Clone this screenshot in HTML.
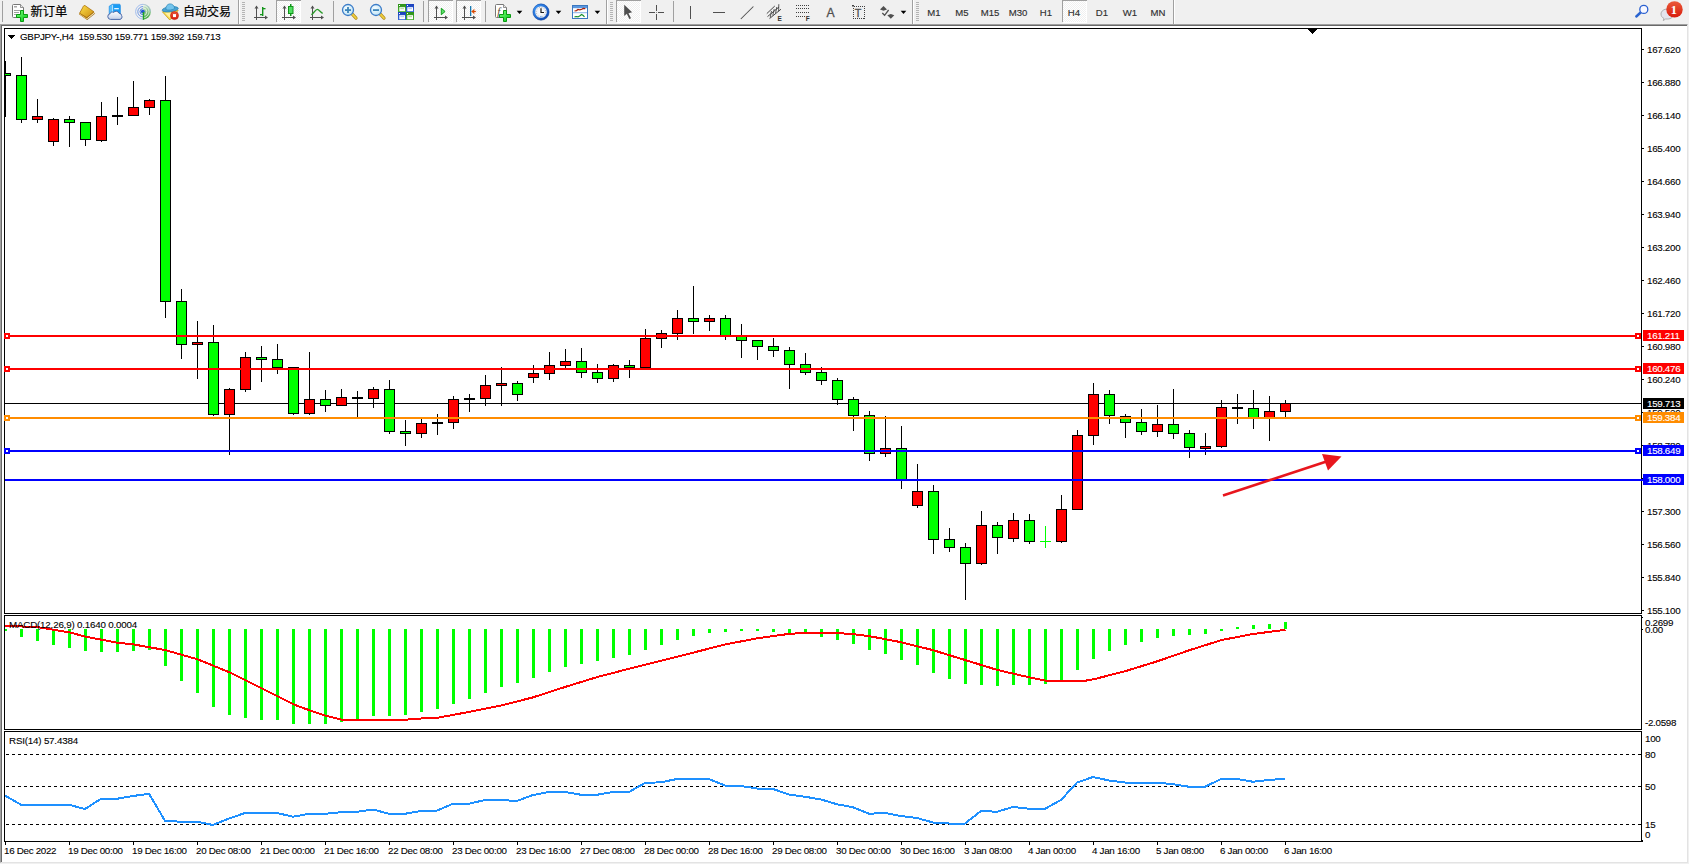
<!DOCTYPE html>
<html lang="zh"><head><meta charset="utf-8"><title>GBPJPY-,H4</title>
<style>
html,body{margin:0;padding:0;}
body{width:1689px;height:864px;overflow:hidden;background:#f0f0f0;position:relative;font-family:"Liberation Sans","Noto Sans CJK SC",sans-serif;}
.frame{position:absolute;left:0;top:24px;width:1688px;height:839px;background:#fff;border-left:1px solid #a0a0a0;border-top:1px solid #a0a0a0;border-right:1px solid #e3e3e3;border-bottom:1px solid #e3e3e3;box-sizing:border-box;}
.frame:before{content:"";position:absolute;left:0;top:0;right:0;bottom:0;border-left:1px solid #696969;border-top:1px solid #696969;}
.chart{position:absolute;left:0;top:0;}
.chart text{white-space:pre;}
.tb{position:absolute;left:0;top:0;width:1689px;height:24px;}
</style></head><body>
<div class="frame"></div>
<svg class="chart" width="1689" height="864" viewBox="0 0 1689 864" shape-rendering="crispEdges"><defs><clipPath id="cp"><rect x="5" y="29" width="1636" height="812"/></clipPath></defs><rect x="4" y="28" width="1638" height="1" fill="#000"/><rect x="4" y="28" width="1" height="814" fill="#000"/><rect x="1641" y="28" width="1" height="814" fill="#000"/><rect x="4" y="613" width="1638" height="1" fill="#000"/><rect x="4" y="615" width="1638" height="1" fill="#000"/><rect x="4" y="729" width="1638" height="1" fill="#000"/><rect x="4" y="731" width="1638" height="1" fill="#000"/><rect x="4" y="841" width="1639" height="1" fill="#000"/><rect x="4" y="614" width="1638" height="1" fill="#fff"/><rect x="4" y="730" width="1638" height="1" fill="#fff"/><path d="M1308 29h9l-4.5 5z" fill="#000"/><rect x="5" y="403" width="1636" height="1" fill="#000"/><g clip-path="url(#cp)"><rect x="5" y="61" width="1" height="56" fill="#000"/><rect x="0" y="73" width="11" height="3" fill="#000"/><rect x="1" y="74" width="9" height="1" fill="#0f0"/><rect x="21" y="57" width="1" height="66" fill="#000"/><rect x="16" y="75" width="11" height="45" fill="#000"/><rect x="17" y="76" width="9" height="43" fill="#0f0"/><rect x="37" y="99" width="1" height="24" fill="#000"/><rect x="32" y="116" width="11" height="4" fill="#000"/><rect x="33" y="117" width="9" height="2" fill="#f00"/><rect x="53" y="118" width="1" height="28" fill="#000"/><rect x="48" y="119" width="11" height="23" fill="#000"/><rect x="49" y="120" width="9" height="21" fill="#f00"/><rect x="69" y="116" width="1" height="31" fill="#000"/><rect x="64" y="119" width="11" height="4" fill="#000"/><rect x="65" y="120" width="9" height="2" fill="#0f0"/><rect x="85" y="122" width="1" height="24" fill="#000"/><rect x="80" y="122" width="11" height="18" fill="#000"/><rect x="81" y="123" width="9" height="16" fill="#0f0"/><rect x="101" y="102" width="1" height="40" fill="#000"/><rect x="96" y="116" width="11" height="25" fill="#000"/><rect x="97" y="117" width="9" height="23" fill="#f00"/><rect x="117" y="97" width="1" height="28" fill="#000"/><rect x="112" y="115" width="11" height="2" fill="#000"/><rect x="133" y="81" width="1" height="35" fill="#000"/><rect x="128" y="107" width="11" height="9" fill="#000"/><rect x="129" y="108" width="9" height="7" fill="#f00"/><rect x="149" y="99" width="1" height="16" fill="#000"/><rect x="144" y="100" width="11" height="8" fill="#000"/><rect x="145" y="101" width="9" height="6" fill="#f00"/><rect x="165" y="76" width="1" height="242" fill="#000"/><rect x="160" y="100" width="11" height="202" fill="#000"/><rect x="161" y="101" width="9" height="200" fill="#0f0"/><rect x="181" y="289" width="1" height="70" fill="#000"/><rect x="176" y="301" width="11" height="44" fill="#000"/><rect x="177" y="302" width="9" height="42" fill="#0f0"/><rect x="197" y="321" width="1" height="58" fill="#000"/><rect x="192" y="342" width="11" height="3" fill="#000"/><rect x="193" y="343" width="9" height="1" fill="#f00"/><rect x="213" y="325" width="1" height="91" fill="#000"/><rect x="208" y="342" width="11" height="73" fill="#000"/><rect x="209" y="343" width="9" height="71" fill="#0f0"/><rect x="229" y="388" width="1" height="67" fill="#000"/><rect x="224" y="389" width="11" height="26" fill="#000"/><rect x="225" y="390" width="9" height="24" fill="#f00"/><rect x="245" y="352" width="1" height="40" fill="#000"/><rect x="240" y="357" width="11" height="33" fill="#000"/><rect x="241" y="358" width="9" height="31" fill="#f00"/><rect x="261" y="346" width="1" height="36" fill="#000"/><rect x="256" y="357" width="11" height="3" fill="#000"/><rect x="257" y="358" width="9" height="1" fill="#0f0"/><rect x="277" y="344" width="1" height="30" fill="#000"/><rect x="272" y="359" width="11" height="9" fill="#000"/><rect x="273" y="360" width="9" height="7" fill="#0f0"/><rect x="293" y="367" width="1" height="48" fill="#000"/><rect x="288" y="367" width="11" height="47" fill="#000"/><rect x="289" y="368" width="9" height="45" fill="#0f0"/><rect x="309" y="352" width="1" height="63" fill="#000"/><rect x="304" y="399" width="11" height="15" fill="#000"/><rect x="305" y="400" width="9" height="13" fill="#f00"/><rect x="325" y="390" width="1" height="22" fill="#000"/><rect x="320" y="399" width="11" height="7" fill="#000"/><rect x="321" y="400" width="9" height="5" fill="#0f0"/><rect x="341" y="389" width="1" height="17" fill="#000"/><rect x="336" y="397" width="11" height="9" fill="#000"/><rect x="337" y="398" width="9" height="7" fill="#f00"/><rect x="357" y="391" width="1" height="26" fill="#000"/><rect x="352" y="397" width="11" height="2" fill="#000"/><rect x="373" y="387" width="1" height="21" fill="#000"/><rect x="368" y="389" width="11" height="10" fill="#000"/><rect x="369" y="390" width="9" height="8" fill="#f00"/><rect x="389" y="380" width="1" height="54" fill="#000"/><rect x="384" y="389" width="11" height="43" fill="#000"/><rect x="385" y="390" width="9" height="41" fill="#0f0"/><rect x="405" y="420" width="1" height="26" fill="#000"/><rect x="400" y="431" width="11" height="3" fill="#000"/><rect x="401" y="432" width="9" height="1" fill="#0f0"/><rect x="421" y="419" width="1" height="19" fill="#000"/><rect x="416" y="423" width="11" height="11" fill="#000"/><rect x="417" y="424" width="9" height="9" fill="#f00"/><rect x="437" y="414" width="1" height="21" fill="#000"/><rect x="432" y="422" width="11" height="2" fill="#000"/><rect x="453" y="396" width="1" height="33" fill="#000"/><rect x="448" y="399" width="11" height="24" fill="#000"/><rect x="449" y="400" width="9" height="22" fill="#f00"/><rect x="469" y="394" width="1" height="18" fill="#000"/><rect x="464" y="398" width="11" height="2" fill="#000"/><rect x="485" y="375" width="1" height="31" fill="#000"/><rect x="480" y="385" width="11" height="14" fill="#000"/><rect x="481" y="386" width="9" height="12" fill="#f00"/><rect x="501" y="367" width="1" height="39" fill="#000"/><rect x="496" y="383" width="11" height="3" fill="#000"/><rect x="497" y="384" width="9" height="1" fill="#f00"/><rect x="517" y="381" width="1" height="20" fill="#000"/><rect x="512" y="383" width="11" height="12" fill="#000"/><rect x="513" y="384" width="9" height="10" fill="#0f0"/><rect x="533" y="365" width="1" height="18" fill="#000"/><rect x="528" y="373" width="11" height="5" fill="#000"/><rect x="529" y="374" width="9" height="3" fill="#f00"/><rect x="549" y="352" width="1" height="28" fill="#000"/><rect x="544" y="365" width="11" height="9" fill="#000"/><rect x="545" y="366" width="9" height="7" fill="#f00"/><rect x="565" y="349" width="1" height="19" fill="#000"/><rect x="560" y="361" width="11" height="5" fill="#000"/><rect x="561" y="362" width="9" height="3" fill="#f00"/><rect x="581" y="348" width="1" height="30" fill="#000"/><rect x="576" y="361" width="11" height="12" fill="#000"/><rect x="577" y="362" width="9" height="10" fill="#0f0"/><rect x="597" y="364" width="1" height="19" fill="#000"/><rect x="592" y="372" width="11" height="7" fill="#000"/><rect x="593" y="373" width="9" height="5" fill="#0f0"/><rect x="613" y="364" width="1" height="18" fill="#000"/><rect x="608" y="365" width="11" height="14" fill="#000"/><rect x="609" y="366" width="9" height="12" fill="#f00"/><rect x="629" y="360" width="1" height="18" fill="#000"/><rect x="624" y="365" width="11" height="3" fill="#000"/><rect x="625" y="366" width="9" height="1" fill="#0f0"/><rect x="645" y="329" width="1" height="39" fill="#000"/><rect x="640" y="338" width="11" height="30" fill="#000"/><rect x="641" y="339" width="9" height="28" fill="#f00"/><rect x="661" y="330" width="1" height="18" fill="#000"/><rect x="656" y="333" width="11" height="6" fill="#000"/><rect x="657" y="334" width="9" height="4" fill="#f00"/><rect x="677" y="310" width="1" height="30" fill="#000"/><rect x="672" y="318" width="11" height="16" fill="#000"/><rect x="673" y="319" width="9" height="14" fill="#f00"/><rect x="693" y="286" width="1" height="48" fill="#000"/><rect x="688" y="318" width="11" height="4" fill="#000"/><rect x="689" y="319" width="9" height="2" fill="#0f0"/><rect x="709" y="315" width="1" height="16" fill="#000"/><rect x="704" y="318" width="11" height="4" fill="#000"/><rect x="705" y="319" width="9" height="2" fill="#f00"/><rect x="725" y="315" width="1" height="25" fill="#000"/><rect x="720" y="318" width="11" height="19" fill="#000"/><rect x="721" y="319" width="9" height="17" fill="#0f0"/><rect x="741" y="324" width="1" height="34" fill="#000"/><rect x="736" y="336" width="11" height="5" fill="#000"/><rect x="737" y="337" width="9" height="3" fill="#0f0"/><rect x="757" y="340" width="1" height="20" fill="#000"/><rect x="752" y="340" width="11" height="7" fill="#000"/><rect x="753" y="341" width="9" height="5" fill="#0f0"/><rect x="773" y="338" width="1" height="19" fill="#000"/><rect x="768" y="346" width="11" height="5" fill="#000"/><rect x="769" y="347" width="9" height="3" fill="#0f0"/><rect x="789" y="347" width="1" height="42" fill="#000"/><rect x="784" y="350" width="11" height="15" fill="#000"/><rect x="785" y="351" width="9" height="13" fill="#0f0"/><rect x="805" y="353" width="1" height="22" fill="#000"/><rect x="800" y="364" width="11" height="9" fill="#000"/><rect x="801" y="365" width="9" height="7" fill="#0f0"/><rect x="821" y="367" width="1" height="18" fill="#000"/><rect x="816" y="372" width="11" height="9" fill="#000"/><rect x="817" y="373" width="9" height="7" fill="#0f0"/><rect x="837" y="378" width="1" height="27" fill="#000"/><rect x="832" y="380" width="11" height="20" fill="#000"/><rect x="833" y="381" width="9" height="18" fill="#0f0"/><rect x="853" y="397" width="1" height="34" fill="#000"/><rect x="848" y="399" width="11" height="17" fill="#000"/><rect x="849" y="400" width="9" height="15" fill="#0f0"/><rect x="869" y="411" width="1" height="50" fill="#000"/><rect x="864" y="415" width="11" height="39" fill="#000"/><rect x="865" y="416" width="9" height="37" fill="#0f0"/><rect x="885" y="416" width="1" height="41" fill="#000"/><rect x="880" y="448" width="11" height="6" fill="#000"/><rect x="881" y="449" width="9" height="4" fill="#f00"/><rect x="901" y="426" width="1" height="63" fill="#000"/><rect x="896" y="448" width="11" height="32" fill="#000"/><rect x="897" y="449" width="9" height="30" fill="#0f0"/><rect x="917" y="464" width="1" height="44" fill="#000"/><rect x="912" y="491" width="11" height="15" fill="#000"/><rect x="913" y="492" width="9" height="13" fill="#f00"/><rect x="933" y="485" width="1" height="69" fill="#000"/><rect x="928" y="491" width="11" height="49" fill="#000"/><rect x="929" y="492" width="9" height="47" fill="#0f0"/><rect x="949" y="528" width="1" height="24" fill="#000"/><rect x="944" y="539" width="11" height="9" fill="#000"/><rect x="945" y="540" width="9" height="7" fill="#0f0"/><rect x="965" y="543" width="1" height="57" fill="#000"/><rect x="960" y="547" width="11" height="17" fill="#000"/><rect x="961" y="548" width="9" height="15" fill="#0f0"/><rect x="981" y="511" width="1" height="54" fill="#000"/><rect x="976" y="525" width="11" height="39" fill="#000"/><rect x="977" y="526" width="9" height="37" fill="#f00"/><rect x="997" y="522" width="1" height="32" fill="#000"/><rect x="992" y="525" width="11" height="13" fill="#000"/><rect x="993" y="526" width="9" height="11" fill="#0f0"/><rect x="1013" y="513" width="1" height="29" fill="#000"/><rect x="1008" y="520" width="11" height="19" fill="#000"/><rect x="1009" y="521" width="9" height="17" fill="#f00"/><rect x="1029" y="514" width="1" height="30" fill="#000"/><rect x="1024" y="520" width="11" height="22" fill="#000"/><rect x="1025" y="521" width="9" height="20" fill="#0f0"/><rect x="1045" y="526" width="1" height="22" fill="#0f0"/><rect x="1040" y="541" width="11" height="1" fill="#0f0"/><rect x="1061" y="495" width="1" height="48" fill="#000"/><rect x="1056" y="509" width="11" height="33" fill="#000"/><rect x="1057" y="510" width="9" height="31" fill="#f00"/><rect x="1077" y="430" width="1" height="80" fill="#000"/><rect x="1072" y="435" width="11" height="75" fill="#000"/><rect x="1073" y="436" width="9" height="73" fill="#f00"/><rect x="1093" y="383" width="1" height="62" fill="#000"/><rect x="1088" y="394" width="11" height="42" fill="#000"/><rect x="1089" y="395" width="9" height="40" fill="#f00"/><rect x="1109" y="390" width="1" height="34" fill="#000"/><rect x="1104" y="394" width="11" height="22" fill="#000"/><rect x="1105" y="395" width="9" height="20" fill="#0f0"/><rect x="1125" y="414" width="1" height="24" fill="#000"/><rect x="1120" y="416" width="11" height="7" fill="#000"/><rect x="1121" y="417" width="9" height="5" fill="#0f0"/><rect x="1141" y="409" width="1" height="26" fill="#000"/><rect x="1136" y="422" width="11" height="10" fill="#000"/><rect x="1137" y="423" width="9" height="8" fill="#0f0"/><rect x="1157" y="405" width="1" height="32" fill="#000"/><rect x="1152" y="424" width="11" height="8" fill="#000"/><rect x="1153" y="425" width="9" height="6" fill="#f00"/><rect x="1173" y="389" width="1" height="50" fill="#000"/><rect x="1168" y="424" width="11" height="10" fill="#000"/><rect x="1169" y="425" width="9" height="8" fill="#0f0"/><rect x="1189" y="430" width="1" height="28" fill="#000"/><rect x="1184" y="433" width="11" height="15" fill="#000"/><rect x="1185" y="434" width="9" height="13" fill="#0f0"/><rect x="1205" y="433" width="1" height="22" fill="#000"/><rect x="1200" y="446" width="11" height="3" fill="#000"/><rect x="1201" y="447" width="9" height="1" fill="#f00"/><rect x="1221" y="400" width="1" height="48" fill="#000"/><rect x="1216" y="407" width="11" height="40" fill="#000"/><rect x="1217" y="408" width="9" height="38" fill="#f00"/><rect x="1237" y="394" width="1" height="30" fill="#000"/><rect x="1232" y="407" width="11" height="2" fill="#000"/><rect x="1253" y="390" width="1" height="39" fill="#000"/><rect x="1248" y="408" width="11" height="11" fill="#000"/><rect x="1249" y="409" width="9" height="9" fill="#0f0"/><rect x="1269" y="396" width="1" height="45" fill="#000"/><rect x="1264" y="411" width="11" height="8" fill="#000"/><rect x="1265" y="412" width="9" height="6" fill="#f00"/><rect x="1285" y="400" width="1" height="17" fill="#000"/><rect x="1280" y="403" width="11" height="9" fill="#000"/><rect x="1281" y="404" width="9" height="7" fill="#f00"/></g><rect x="5" y="335" width="1636" height="2" fill="#f00"/><rect x="5" y="334" width="4" height="4" fill="#fff" stroke="#f00" stroke-width="2"/><rect x="1636" y="334" width="4" height="4" fill="#fff" stroke="#f00" stroke-width="2"/><rect x="5" y="368" width="1636" height="2" fill="#f00"/><rect x="5" y="367" width="4" height="4" fill="#fff" stroke="#f00" stroke-width="2"/><rect x="1636" y="367" width="4" height="4" fill="#fff" stroke="#f00" stroke-width="2"/><rect x="5" y="417" width="1636" height="2" fill="#ff8c00"/><rect x="5" y="416" width="4" height="4" fill="#fff" stroke="#ff8c00" stroke-width="2"/><rect x="1636" y="416" width="4" height="4" fill="#fff" stroke="#ff8c00" stroke-width="2"/><rect x="5" y="450" width="1636" height="2" fill="#00f"/><rect x="5" y="449" width="4" height="4" fill="#fff" stroke="#00f" stroke-width="2"/><rect x="1636" y="449" width="4" height="4" fill="#fff" stroke="#00f" stroke-width="2"/><rect x="5" y="479" width="1639" height="2" fill="#00f"/><g shape-rendering="auto"><line x1="1223" y1="495.5" x2="1328" y2="461" stroke="#e8161e" stroke-width="2.6"/><path d="M1341.5 456.5L1322 454L1328 470.5z" fill="#e8161e"/></g><g clip-path="url(#cp)"><rect x="4" y="629" width="3" height="2" fill="#0f0"/><rect x="20" y="629" width="3" height="8" fill="#0f0"/><rect x="36" y="629" width="3" height="12" fill="#0f0"/><rect x="52" y="629" width="3" height="16" fill="#0f0"/><rect x="68" y="629" width="3" height="19" fill="#0f0"/><rect x="84" y="629" width="3" height="22" fill="#0f0"/><rect x="100" y="629" width="3" height="23" fill="#0f0"/><rect x="116" y="629" width="3" height="23" fill="#0f0"/><rect x="132" y="629" width="3" height="22" fill="#0f0"/><rect x="148" y="629" width="3" height="21" fill="#0f0"/><rect x="164" y="629" width="3" height="37" fill="#0f0"/><rect x="180" y="629" width="3" height="52" fill="#0f0"/><rect x="196" y="629" width="3" height="64" fill="#0f0"/><rect x="212" y="629" width="3" height="78" fill="#0f0"/><rect x="228" y="629" width="3" height="86" fill="#0f0"/><rect x="244" y="629" width="3" height="89" fill="#0f0"/><rect x="260" y="629" width="3" height="91" fill="#0f0"/><rect x="276" y="629" width="3" height="91" fill="#0f0"/><rect x="292" y="629" width="3" height="95" fill="#0f0"/><rect x="308" y="629" width="3" height="95" fill="#0f0"/><rect x="324" y="629" width="3" height="95" fill="#0f0"/><rect x="340" y="629" width="3" height="93" fill="#0f0"/><rect x="356" y="629" width="3" height="91" fill="#0f0"/><rect x="372" y="629" width="3" height="87" fill="#0f0"/><rect x="388" y="629" width="3" height="87" fill="#0f0"/><rect x="404" y="629" width="3" height="86" fill="#0f0"/><rect x="420" y="629" width="3" height="83" fill="#0f0"/><rect x="436" y="629" width="3" height="80" fill="#0f0"/><rect x="452" y="629" width="3" height="75" fill="#0f0"/><rect x="468" y="629" width="3" height="70" fill="#0f0"/><rect x="484" y="629" width="3" height="64" fill="#0f0"/><rect x="500" y="629" width="3" height="58" fill="#0f0"/><rect x="516" y="629" width="3" height="54" fill="#0f0"/><rect x="532" y="629" width="3" height="49" fill="#0f0"/><rect x="548" y="629" width="3" height="43" fill="#0f0"/><rect x="564" y="629" width="3" height="38" fill="#0f0"/><rect x="580" y="629" width="3" height="35" fill="#0f0"/><rect x="596" y="629" width="3" height="32" fill="#0f0"/><rect x="612" y="629" width="3" height="29" fill="#0f0"/><rect x="628" y="629" width="3" height="26" fill="#0f0"/><rect x="644" y="629" width="3" height="21" fill="#0f0"/><rect x="660" y="629" width="3" height="16" fill="#0f0"/><rect x="676" y="629" width="3" height="11" fill="#0f0"/><rect x="692" y="629" width="3" height="7" fill="#0f0"/><rect x="708" y="629" width="3" height="4" fill="#0f0"/><rect x="724" y="629" width="3" height="3" fill="#0f0"/><rect x="740" y="629" width="3" height="2" fill="#0f0"/><rect x="756" y="629" width="3" height="2" fill="#0f0"/><rect x="772" y="629" width="3" height="3" fill="#0f0"/><rect x="788" y="629" width="3" height="5" fill="#0f0"/><rect x="804" y="629" width="3" height="5" fill="#0f0"/><rect x="820" y="629" width="3" height="8" fill="#0f0"/><rect x="836" y="629" width="3" height="11" fill="#0f0"/><rect x="852" y="629" width="3" height="15" fill="#0f0"/><rect x="868" y="629" width="3" height="21" fill="#0f0"/><rect x="884" y="629" width="3" height="25" fill="#0f0"/><rect x="900" y="629" width="3" height="31" fill="#0f0"/><rect x="916" y="629" width="3" height="36" fill="#0f0"/><rect x="932" y="629" width="3" height="44" fill="#0f0"/><rect x="948" y="629" width="3" height="50" fill="#0f0"/><rect x="964" y="629" width="3" height="55" fill="#0f0"/><rect x="980" y="629" width="3" height="56" fill="#0f0"/><rect x="996" y="629" width="3" height="57" fill="#0f0"/><rect x="1012" y="629" width="3" height="56" fill="#0f0"/><rect x="1028" y="629" width="3" height="56" fill="#0f0"/><rect x="1044" y="629" width="3" height="55" fill="#0f0"/><rect x="1060" y="629" width="3" height="51" fill="#0f0"/><rect x="1076" y="629" width="3" height="41" fill="#0f0"/><rect x="1092" y="629" width="3" height="30" fill="#0f0"/><rect x="1108" y="629" width="3" height="22" fill="#0f0"/><rect x="1124" y="629" width="3" height="16" fill="#0f0"/><rect x="1140" y="629" width="3" height="13" fill="#0f0"/><rect x="1156" y="629" width="3" height="9" fill="#0f0"/><rect x="1172" y="629" width="3" height="7" fill="#0f0"/><rect x="1188" y="629" width="3" height="6" fill="#0f0"/><rect x="1204" y="629" width="3" height="5" fill="#0f0"/><rect x="1220" y="629" width="3" height="2" fill="#0f0"/><rect x="1236" y="627" width="3" height="2" fill="#0f0"/><rect x="1252" y="625" width="3" height="4" fill="#0f0"/><rect x="1268" y="624" width="3" height="5" fill="#0f0"/><rect x="1284" y="622" width="3" height="7" fill="#0f0"/></g><polyline fill="none" stroke="#f00" stroke-width="2" points="5,625.5 40,627.5 70,632.5 86,636.75 117.5,642.75 132.5,644.25 165,650 197.5,659.25 230,672.5 261,688 277.5,696.25 293.75,704.5 310,710.5 325,715.5 341.75,719.75 405,719.75 421,718.5 437.5,717.75 470,711.75 500,705.75 532.5,697.5 565,687 597.5,677 630,668.5 661,660.75 693.75,652.5 725,644.5 757.5,638.25 790,633.75 805,633 837.5,633 853.75,634.25 870,636.25 900,642 932.5,650 965,660 997.5,670 1030,677.5 1046,680.75 1085,680.75 1093.75,679.25 1125,671.25 1157.5,661.25 1190,650 1221.7,640 1253,634 1285.5,629.8"/><path d="M6 754.5H1641" stroke="#000" stroke-width="1" stroke-dasharray="3 3" fill="none"/><path d="M6 786.5H1641" stroke="#000" stroke-width="1" stroke-dasharray="3 3" fill="none"/><path d="M6 824.5H1641" stroke="#000" stroke-width="1" stroke-dasharray="3 3" fill="none"/><polyline fill="none" stroke="#1e90ff" stroke-width="2" stroke-linejoin="round" points="5,795.5 21,804.75 37,804.75 53,804.75 69,804.75 85,809 101,798.75 117,798.75 133,796 149,793.75 165,820.75 181,821.75 197,821.75 213,825 229,818.5 245,813 261,813 277,813 293,816.75 309,813.75 325,813.75 341,812.25 357,811.75 373,809.5 389,813.75 405,813.75 421,811 437,810.5 453,803.75 469,803.75 485,800 501,800 517,801 533,795 549,792 565,792 581,794.75 597,794.75 613,792 629,792 645,783 661,782.25 677,779 693,779 709,779 725,785.5 741,786 757,788.5 773,789 789,794.5 805,796.75 821,799.5 837,804.25 853,807.25 869,813.75 885,813 901,816 917,818 933,822.5 949,823.5 965,823.5 981,811 997,811.75 1013,807 1029,808.75 1045,808.75 1061,800 1077,782.5 1093,777 1109,780.5 1125,782.5 1141,782.5 1157,782.5 1173,784.25 1189,786.75 1205,786.75 1221,779 1237,779 1253,781.75 1269,780 1285,778.75"/><rect x="1642" y="49" width="2" height="1" fill="#000"/><rect x="1642" y="82" width="2" height="1" fill="#000"/><rect x="1642" y="115" width="2" height="1" fill="#000"/><rect x="1642" y="148" width="2" height="1" fill="#000"/><rect x="1642" y="181" width="2" height="1" fill="#000"/><rect x="1642" y="214" width="2" height="1" fill="#000"/><rect x="1642" y="247" width="2" height="1" fill="#000"/><rect x="1642" y="280" width="2" height="1" fill="#000"/><rect x="1642" y="313" width="2" height="1" fill="#000"/><rect x="1642" y="346" width="2" height="1" fill="#000"/><rect x="1642" y="379" width="2" height="1" fill="#000"/><rect x="1642" y="412" width="2" height="1" fill="#000"/><rect x="1642" y="445" width="2" height="1" fill="#000"/><rect x="1642" y="478" width="2" height="1" fill="#000"/><rect x="1642" y="511" width="2" height="1" fill="#000"/><rect x="1642" y="544" width="2" height="1" fill="#000"/><rect x="1642" y="577" width="2" height="1" fill="#000"/><rect x="1642" y="610" width="2" height="1" fill="#000"/><rect x="1642" y="629" width="1" height="1" fill="#000"/><rect x="1642" y="617" width="1" height="1" fill="#000"/><rect x="1642" y="840" width="1" height="1" fill="#000"/><rect x="5" y="842" width="1" height="3" fill="#000"/><rect x="69" y="842" width="1" height="3" fill="#000"/><rect x="133" y="842" width="1" height="3" fill="#000"/><rect x="197" y="842" width="1" height="3" fill="#000"/><rect x="261" y="842" width="1" height="3" fill="#000"/><rect x="325" y="842" width="1" height="3" fill="#000"/><rect x="389" y="842" width="1" height="3" fill="#000"/><rect x="453" y="842" width="1" height="3" fill="#000"/><rect x="517" y="842" width="1" height="3" fill="#000"/><rect x="581" y="842" width="1" height="3" fill="#000"/><rect x="645" y="842" width="1" height="3" fill="#000"/><rect x="709" y="842" width="1" height="3" fill="#000"/><rect x="773" y="842" width="1" height="3" fill="#000"/><rect x="837" y="842" width="1" height="3" fill="#000"/><rect x="901" y="842" width="1" height="3" fill="#000"/><rect x="965" y="842" width="1" height="3" fill="#000"/><rect x="1029" y="842" width="1" height="3" fill="#000"/><rect x="1093" y="842" width="1" height="3" fill="#000"/><rect x="1157" y="842" width="1" height="3" fill="#000"/><rect x="1221" y="842" width="1" height="3" fill="#000"/><rect x="1285" y="842" width="1" height="3" fill="#000"/><path d="M8 35h7l-3.5 4z" fill="#000"/><g class="ax" font-family="Liberation Sans, sans-serif" font-size="9.8" letter-spacing="-0.3" fill="#000" stroke="#000" stroke-width=".1" xml:space="preserve"><text x="1647" y="52.5">167.620</text><text x="1647" y="85.5">166.880</text><text x="1647" y="118.5">166.140</text><text x="1647" y="151.5">165.400</text><text x="1647" y="184.5">164.660</text><text x="1647" y="217.5">163.940</text><text x="1647" y="250.5">163.200</text><text x="1647" y="283.5">162.460</text><text x="1647" y="316.5">161.720</text><text x="1647" y="349.5">160.980</text><text x="1647" y="382.5">160.240</text><text x="1647" y="415.5">159.520</text><text x="1647" y="448.5">158.780</text><text x="1647" y="481.5">158.040</text><text x="1647" y="514.5">157.300</text><text x="1647" y="547.5">156.560</text><text x="1647" y="580.5">155.840</text><text x="1647" y="613.5">155.100</text></g><rect x="1643" y="330" width="41" height="11" fill="#f00"/><text font-family="Liberation Sans, sans-serif" font-size="9.8" letter-spacing="-0.3" x="1647" y="339" fill="#fff" stroke="#fff" stroke-width=".12">161.211</text><rect x="1643" y="363" width="41" height="11" fill="#f00"/><text font-family="Liberation Sans, sans-serif" font-size="9.8" letter-spacing="-0.3" x="1647" y="372" fill="#fff" stroke="#fff" stroke-width=".12">160.476</text><rect x="1643" y="398" width="41" height="11" fill="#000"/><text font-family="Liberation Sans, sans-serif" font-size="9.8" letter-spacing="-0.3" x="1647" y="407" fill="#fff" stroke="#fff" stroke-width=".12">159.713</text><rect x="1643" y="412" width="41" height="11" fill="#ff8c00"/><text font-family="Liberation Sans, sans-serif" font-size="9.8" letter-spacing="-0.3" x="1647" y="421" fill="#fff" stroke="#fff" stroke-width=".12">159.384</text><rect x="1643" y="445" width="41" height="11" fill="#00f"/><text font-family="Liberation Sans, sans-serif" font-size="9.8" letter-spacing="-0.3" x="1647" y="454" fill="#fff" stroke="#fff" stroke-width=".12">158.649</text><rect x="1643" y="474" width="41" height="11" fill="#00f"/><text font-family="Liberation Sans, sans-serif" font-size="9.8" letter-spacing="-0.3" x="1647" y="483" fill="#fff" stroke="#fff" stroke-width=".12">158.000</text><g class="ax" font-family="Liberation Sans, sans-serif" font-size="9.8" letter-spacing="-0.3" fill="#000" stroke="#000" stroke-width=".1" xml:space="preserve"><text x="1645" y="626">0.2699</text><text x="1645" y="633">0.00</text><text x="1645" y="726">-2.0598</text><text x="1645" y="741.5">100</text><text x="1645" y="757.5">80</text><text x="1645" y="789.5">50</text><text x="1645" y="827.5">15</text><text x="1645" y="837.5">0</text><text x="4" y="854">16 Dec 2022</text><text x="68" y="854">19 Dec 00:00</text><text x="132" y="854">19 Dec 16:00</text><text x="196" y="854">20 Dec 08:00</text><text x="260" y="854">21 Dec 00:00</text><text x="324" y="854">21 Dec 16:00</text><text x="388" y="854">22 Dec 08:00</text><text x="452" y="854">23 Dec 00:00</text><text x="516" y="854">23 Dec 16:00</text><text x="580" y="854">27 Dec 08:00</text><text x="644" y="854">28 Dec 00:00</text><text x="708" y="854">28 Dec 16:00</text><text x="772" y="854">29 Dec 08:00</text><text x="836" y="854">30 Dec 00:00</text><text x="900" y="854">30 Dec 16:00</text><text x="964" y="854">3 Jan 08:00</text><text x="1028" y="854">4 Jan 00:00</text><text x="1092" y="854">4 Jan 16:00</text><text x="1156" y="854">5 Jan 08:00</text><text x="1220" y="854">6 Jan 00:00</text><text x="1284" y="854">6 Jan 16:00</text><text x="20" y="39.600" letter-spacing="-0.26">GBPJPY-,H4  159.530 159.771 159.392 159.713</text><text x="9" y="627.700" letter-spacing="-0.2">MACD(12,26,9) 0.1640 0.0004</text><text x="9" y="743.700" letter-spacing="-0.2">RSI(14) 57.4384</text></g></svg>
<svg class="tb" width="1689" height="24" viewBox="0 0 1689 24" font-family="Liberation Sans, Noto Sans CJK SC, sans-serif"><defs><pattern id="chk" width="2" height="2" patternUnits="userSpaceOnUse"><rect width="2" height="2" fill="#fff"/><rect width="1" height="1" fill="#f0f0f0"/><rect x="1" y="1" width="1" height="1" fill="#f0f0f0"/></pattern><linearGradient id="gp" x1="0" y1="0" x2="1" y2="1"><stop offset="0" stop-color="#7dff7d"/><stop offset="1" stop-color="#00c814"/></linearGradient><linearGradient id="gold" x1="0" y1="0" x2="1" y2="1"><stop offset="0" stop-color="#ffe14a"/><stop offset="1" stop-color="#c88a10"/></linearGradient><linearGradient id="bl" x1="0" y1="0" x2="0" y2="1"><stop offset="0" stop-color="#1a40bc"/><stop offset="1" stop-color="#3466d8"/></linearGradient><linearGradient id="gr" x1="0" y1="0" x2="0" y2="1"><stop offset="0" stop-color="#2c9018"/><stop offset="1" stop-color="#4ab430"/></linearGradient><linearGradient id="rd" x1="0" y1="0" x2="0" y2="1"><stop offset="0" stop-color="#ea5a3a"/><stop offset="1" stop-color="#d81c0c"/></linearGradient><radialGradient id="lens" cx=".4" cy=".35" r=".7"><stop offset="0" stop-color="#f4fcff"/><stop offset="1" stop-color="#bfe4f6"/></radialGradient><linearGradient id="cloud" x1="0" y1="0" x2="0" y2="1"><stop offset="0" stop-color="#ffffff"/><stop offset="1" stop-color="#c4d0e8"/></linearGradient><linearGradient id="sig" x1="0" y1="0" x2=".3" y2="1"><stop offset="0" stop-color="#e4ece4"/><stop offset="1" stop-color="#4cac4c"/></linearGradient><linearGradient id="ring" x1="0" y1="0" x2="1" y2="1"><stop offset="0" stop-color="#3c98f8"/><stop offset="1" stop-color="#0a44b0"/></linearGradient><radialGradient id="face" cx=".5" cy=".5" r=".5"><stop offset="0" stop-color="#ffffff"/><stop offset="1" stop-color="#e4e8f0"/></radialGradient></defs><rect x="2" y="1" width="1" height="21" fill="#a0a0a0"/><g><path d="M12.5 5.5a1 1 0 0 1 1-1h7l3 3v9a1 1 0 0 1-1 1h-9a1 1 0 0 1-1-1z" fill="#fff" stroke="#787878"/><path d="M20.5 4.5v3h3" fill="#e8e8e8" stroke="#787878" stroke-width=".8"/><rect x="14" y="6" width="3" height="1.5" fill="#a8a8a8"/><rect x="14" y="10" width="6" height="1" fill="#a0a0a0"/><rect x="14" y="12" width="5" height="1" fill="#a0a0a0"/><rect x="14" y="14" width="3" height="1" fill="#a0a0a0"/><path d="M20.5 10.5h3v4h4v3h-4v4h-3v-4h-4v-3h4z" fill="url(#gp)" stroke="#0a9a12" stroke-width="1"/></g><text x="30.400" y="15.600" font-size="12.300" fill="#000" stroke="#000" stroke-width=".2">新订单</text><g><path d="M84.400 5.200L95.200 13.400L87.200 20L79 14.200z" fill="#9a6410"/><path d="M87.200 18.600L94.600 12.600" stroke="#f4e8b8" stroke-width="1.100"/><path d="M79.400 13.800l7.600 5.200" stroke="#e8c868" stroke-width="1"/><path d="M85 5.600C84 5.400 83.200 6 83 7L79.600 13.200L86.800 17.600L94 11.800z" fill="url(#gold)" stroke="#a86c10" stroke-width=".7" stroke-linejoin="round"/></g><g><path d="M109.200 6.200l3.200-2h7.400l.600 1.200v9h-11.200z" fill="#1a9cf4" stroke="#1684e0" stroke-width=".6"/><path d="M109.500 6.400l3-1.800v9.500h-3z" fill="#58bcfa"/><path d="M112.600 5v9" stroke="#d8f0ff" stroke-width=".8"/><rect x="114.200" y="8" width="4.600" height="1.300" fill="#e0f4ff"/><path d="M110.400 19.400a2.900 2.900 0 0 1-.4-5.700a2.400 2.400 0 0 1 3.600-1.300a3.300 3.300 0 0 1 5.600 1a2.300 2.300 0 0 1 2.400 2.200a2.500 2.500 0 0 1-1.600 3.800z" fill="url(#cloud)" stroke="#4a68a8" stroke-width="1"/></g><g fill="none"><path d="M143 3.900a7.800 7.800 0 0 1 0 15.600z" fill="url(#sig)"/><path d="M143 7.900a3.800 3.800 0 0 1 0 7.600M143 5.600a6.100 6.100 0 0 1 0 12.200" stroke="#fff" stroke-opacity=".75" stroke-width=".9"/><path d="M143 4.300a7.400 7.400 0 0 0 0 14.800" stroke="#9ab8ec" stroke-width=".9"/><path d="M143 6.500a5.200 5.200 0 0 0 0 10.400" stroke="#6e98e4" stroke-width="1"/><path d="M143 8.700a3 3 0 0 0 0 6" stroke="#4a7cdc" stroke-width="1"/><path d="M143 4.300a7.400 7.400 0 0 1 7.400 7.400" stroke="#a8c0d8" stroke-width=".8"/><circle cx="142.800" cy="11.600" r="1.900" fill="#2456d4" stroke="none"/><rect x="142.800" y="12" width="1.400" height="7.800" fill="#22a422" stroke="none"/></g><g><path d="M162.400 11.800L178.200 10.400l-8.400 9.600z" fill="#f8dc50" stroke="#c89a18" stroke-width=".8"/><path d="M165 13l9-1-4.500 5.500z" fill="#fff0a0"/><g transform="rotate(-7 170 9)"><ellipse cx="170.200" cy="9.300" rx="8.100" ry="2.500" fill="#4aa4d4" stroke="#2c84b4" stroke-width=".8"/><path d="M165.800 9c.3-6.800 8.600-6.800 9 0c-2 1.400-7 1.400-9 0z" fill="#74c4ec" stroke="#2c88b8" stroke-width=".7"/></g><circle cx="174.500" cy="15.600" r="4" fill="url(#rd)" stroke="#c01808" stroke-width=".6"/><rect x="173" y="14.100" width="3" height="3" fill="#fff"/></g><text x="182.900" y="15.500" font-size="12" fill="#000" stroke="#000" stroke-width=".2">自动交易</text><rect x="238" y="0" width="1" height="24" fill="#a0a0a0"/><rect x="239" y="0" width="1" height="24" fill="#fff"/><rect x="242" y="2" width="3" height="1" fill="#b4b4b4"/><rect x="242" y="4" width="3" height="1" fill="#b4b4b4"/><rect x="242" y="6" width="3" height="1" fill="#b4b4b4"/><rect x="242" y="8" width="3" height="1" fill="#b4b4b4"/><rect x="242" y="10" width="3" height="1" fill="#b4b4b4"/><rect x="242" y="12" width="3" height="1" fill="#b4b4b4"/><rect x="242" y="14" width="3" height="1" fill="#b4b4b4"/><rect x="242" y="16" width="3" height="1" fill="#b4b4b4"/><rect x="242" y="18" width="3" height="1" fill="#b4b4b4"/><rect x="242" y="20" width="3" height="1" fill="#b4b4b4"/><g fill="#505050"><rect x="256" y="6" width="1" height="14"/><rect x="254" y="17" width="13" height="1"/><path d="M254.5 8.5l2-3 2 3z"/><path d="M265 15.5l3 2-3 2z"/></g><g fill="#12941a"><rect x="262" y="7" width="1.400" height="9"/><rect x="263" y="8" width="2.500" height="1.300"/><rect x="260" y="14" width="2.500" height="1.300"/></g><rect x="276" y="0" width="25" height="23" fill="url(#chk)"/><rect x="276" y="0" width="25" height="1" fill="#a0a0a0"/><rect x="276" y="0" width="1" height="22" fill="#a0a0a0"/><rect x="300" y="1" width="1" height="22" fill="#fff"/><rect x="277" y="22" width="24" height="1" fill="#fff"/><g fill="#505050"><rect x="284" y="6" width="1" height="14"/><rect x="282" y="17" width="13" height="1"/><path d="M282.5 8.5l2-3 2 3z"/><path d="M293 15.5l3 2-3 2z"/></g><g><rect x="290" y="4" width="1.500" height="12" fill="#12941a"/><rect x="288.500" y="6.500" width="4.500" height="7" fill="#4fe060" stroke="#12941a" stroke-width="1"/></g><g fill="#505050"><rect x="312" y="6" width="1" height="14"/><rect x="310" y="17" width="13" height="1"/><path d="M310.5 8.5l2-3 2 3z"/><path d="M321 15.5l3 2-3 2z"/></g><path d="M311.400 14.700C314 13 315.500 9.400 317.300 9.400S320.500 12.500 322.700 13.400" fill="none" stroke="#2a9a2a" stroke-width="1.300"/><rect x="333" y="1" width="1" height="21" fill="#a0a0a0"/><g><path d="M352.3 14.200l3.700 3.900" stroke="#b08818" stroke-width="3.200" stroke-linecap="round"/><path d="M352.3 14.200l3.700 3.900" stroke="#f0d040" stroke-width="1.700" stroke-linecap="round"/><circle cx="348" cy="10" r="5.500" fill="url(#lens)" stroke="#3c7cc8" stroke-width="1.300"/><rect x="345" y="9.200" width="6" height="1.800" fill="#3c84b8"/><rect x="347.1" y="7" width="1.800" height="6" fill="#3c84b8"/></g><g><path d="M380.3 14.200l3.700 3.900" stroke="#b08818" stroke-width="3.200" stroke-linecap="round"/><path d="M380.3 14.200l3.700 3.900" stroke="#f0d040" stroke-width="1.700" stroke-linecap="round"/><circle cx="376" cy="10" r="5.500" fill="url(#lens)" stroke="#3c7cc8" stroke-width="1.300"/><rect x="373" y="9.200" width="6" height="1.800" fill="#3c84b8"/></g><rect x="398" y="4" width="8" height="8" fill="url(#gr)"/><rect x="399.3" y="7.2" width="5.700" height="4" fill="#fff"/><rect x="400.3" y="8.2" width="3.700" height="1" fill="#a8d890"/><rect x="399" y="5" width="1" height="1" fill="#fff"/><rect x="406" y="4" width="8" height="8" fill="url(#bl)"/><rect x="407.3" y="7.2" width="5.700" height="4" fill="#fff"/><rect x="408.3" y="8.2" width="3.700" height="1" fill="#a8c0f0"/><rect x="407" y="5" width="1" height="1" fill="#fff"/><rect x="398" y="12" width="8" height="8" fill="url(#bl)"/><rect x="399.3" y="15.2" width="5.700" height="4" fill="#fff"/><rect x="400.3" y="16.2" width="3.700" height="1" fill="#a8c0f0"/><rect x="399" y="13" width="1" height="1" fill="#fff"/><rect x="406" y="12" width="8" height="8" fill="url(#gr)"/><rect x="407.3" y="15.2" width="5.700" height="4" fill="#fff"/><rect x="408.3" y="16.2" width="3.700" height="1" fill="#a8d890"/><rect x="407" y="13" width="1" height="1" fill="#fff"/><rect x="423" y="1" width="1" height="21" fill="#a0a0a0"/><rect x="428" y="0" width="25" height="23" fill="url(#chk)"/><rect x="428" y="0" width="25" height="1" fill="#a0a0a0"/><rect x="428" y="0" width="1" height="22" fill="#a0a0a0"/><rect x="452" y="1" width="1" height="22" fill="#fff"/><rect x="429" y="22" width="24" height="1" fill="#fff"/><g fill="#505050"><rect x="436" y="6" width="1" height="14"/><rect x="434" y="17" width="13" height="1"/><path d="M434.5 8.5l2-3 2 3z"/><path d="M445 15.5l3 2-3 2z"/></g><path d="M441.300 8.300v6.400l3.800-3.200z" fill="#58e068" stroke="#12a01c" stroke-width="1"/><rect x="456" y="0" width="25" height="23" fill="url(#chk)"/><rect x="456" y="0" width="25" height="1" fill="#a0a0a0"/><rect x="456" y="0" width="1" height="22" fill="#a0a0a0"/><rect x="480" y="1" width="1" height="22" fill="#fff"/><rect x="457" y="22" width="24" height="1" fill="#fff"/><g fill="#505050"><rect x="464" y="6" width="1" height="14"/><rect x="462" y="17" width="13" height="1"/><path d="M462.5 8.5l2-3 2 3z"/><path d="M473 15.5l3 2-3 2z"/></g><rect x="470" y="6" width="1.300" height="10" fill="#1878b0"/><path d="M471.500 11.500l2.800-2.200-.5 1.800h1.900v.8h-1.900l.5 1.800z" fill="#d84800" stroke="#d84800" stroke-width=".4"/><rect x="485" y="1" width="1" height="21" fill="#a0a0a0"/><g transform="translate(483,0)"><g><path d="M12.5 5.5a1 1 0 0 1 1-1h7l3 3v9a1 1 0 0 1-1 1h-9a1 1 0 0 1-1-1z" fill="#fff" stroke="#787878"/><path d="M20.5 4.5v3h3" fill="#e8e8e8" stroke="#787878" stroke-width=".8"/><text x="14.2" y="14.5" font-size="11" font-style="italic" font-family="Liberation Serif, serif" fill="#5a4a30">f</text><path d="M20.5 10.5h3v4h4v3h-4v4h-3v-4h-4v-3h4z" fill="url(#gp)" stroke="#0a9a12" stroke-width="1"/></g></g><path d="M516.7 10.800h5.600l-2.800 3.200z" fill="#000"/><g><circle cx="541.300" cy="12.500" r="8" fill="#000" opacity=".12"/><circle cx="541" cy="12" r="7" fill="url(#face)" stroke="url(#ring)" stroke-width="2.300"/><circle cx="541" cy="12" r="8.100" fill="none" stroke="#0a3c98" stroke-width=".5"/><circle cx="541" cy="12" r="4.700" fill="none" stroke="#9098a8" stroke-width=".9" stroke-dasharray=".7 1.760"/><path d="M541 8.200v4.300h3" fill="none" stroke="#181818" stroke-width="1.200"/><circle cx="541" cy="16.400" r=".6" fill="#58a0f0"/></g><path d="M555.7 10.800h5.600l-2.800 3.200z" fill="#000"/><g><rect x="572.500" y="5.500" width="15" height="13" fill="#fff" stroke="#3c78c0"/><rect x="573" y="6" width="14" height="2.200" fill="#5a98e0"/><rect x="573" y="12.200" width="14" height="1" fill="#8ab4e8"/><path d="M574.500 11l2-.4 1.500-1.100 1.800.4 2-.6 1.500-.9 2 .300" fill="none" stroke="#a82008" stroke-width="1.200"/><path d="M574.500 16.800l2-.3 1.500.4 2-1.200 1.600-1.200 1.600 1 1.300 1.300" fill="none" stroke="#18902a" stroke-width="1.200"/></g><path d="M594.6 10.800h5.600l-2.800 3.200z" fill="#000"/><rect x="606" y="0" width="1" height="24" fill="#a0a0a0"/><rect x="607" y="0" width="1" height="24" fill="#fff"/><rect x="610" y="2" width="3" height="1" fill="#b4b4b4"/><rect x="610" y="4" width="3" height="1" fill="#b4b4b4"/><rect x="610" y="6" width="3" height="1" fill="#b4b4b4"/><rect x="610" y="8" width="3" height="1" fill="#b4b4b4"/><rect x="610" y="10" width="3" height="1" fill="#b4b4b4"/><rect x="610" y="12" width="3" height="1" fill="#b4b4b4"/><rect x="610" y="14" width="3" height="1" fill="#b4b4b4"/><rect x="610" y="16" width="3" height="1" fill="#b4b4b4"/><rect x="610" y="18" width="3" height="1" fill="#b4b4b4"/><rect x="610" y="20" width="3" height="1" fill="#b4b4b4"/><rect x="616" y="0" width="25" height="23" fill="url(#chk)"/><rect x="616" y="0" width="25" height="1" fill="#a0a0a0"/><rect x="616" y="0" width="1" height="22" fill="#a0a0a0"/><rect x="640" y="1" width="1" height="22" fill="#fff"/><rect x="617" y="22" width="24" height="1" fill="#fff"/><path d="M624.200 4.800v11.200l2.600-2.200 2.500 5.200 1.700-.8-2.500-5 3.600-1z" fill="#505050"/><g fill="#505050"><rect x="649" y="12" width="6" height="1"/><rect x="658" y="12" width="6" height="1"/><rect x="656" y="5" width="1" height="6"/><rect x="656" y="14" width="1" height="6"/><rect x="656" y="12" width="1" height="1" fill="#909090"/></g><rect x="673" y="1" width="1" height="21" fill="#a0a0a0"/><rect x="690" y="6" width="1" height="13" fill="#505050"/><rect x="713" y="12" width="12" height="1" fill="#505050"/><path d="M740.800 19L753.400 6.500" stroke="#505050" stroke-width="1.050"/><g stroke="#484848" stroke-width="1" fill="none"><path d="M766.800 13.600l8-7.600M767.500 16.600l11.500-9.600M769.500 18.600l11.500-9.400"/><path d="M770.200 17.500l1.300-6.500M772.800 15.500l1.400-6.500M775.500 13.500l1.300-6.500M778.600 11.500l.2-7.300" stroke-width=".9"/></g><text x="777.600" y="20.800" font-size="6.500" font-weight="bold" fill="#303030">E</text><path d="M796 5.5H810" stroke="#404040" stroke-width="1" stroke-dasharray="1 1"/><path d="M796 8.5H810" stroke="#404040" stroke-width="1" stroke-dasharray="1 1"/><path d="M796 12.5H810" stroke="#404040" stroke-width="1" stroke-dasharray="1 1"/><path d="M796 16.5H805" stroke="#404040" stroke-width="1" stroke-dasharray="1 1"/><text x="805.800" y="20.800" font-size="6.500" font-weight="bold" fill="#303030">F</text><text x="826.400" y="16.800" font-size="12.200" fill="#505050" stroke="#505050" stroke-width=".3">A</text><rect x="853.500" y="6.500" width="11" height="12" fill="none" stroke="#404040" stroke-width="1" stroke-dasharray="1 1" shape-rendering="crispEdges"/><text stroke="#505050" stroke-width=".3" x="854.800" y="16.800" font-size="10.800" fill="#505050">T</text><rect x="852" y="5" width="2" height="1.500" fill="#404040"/><g fill="#505050"><path d="M880 9.500l3.500-3.500 3.500 3.500-3.500 1.200z"/><path d="M887.300 15.200l3.500-1.200 3.500 1.200-3.500 3.600z"/><path d="M882.300 13l2.300 2.300 4-5.300" fill="none" stroke="#505050" stroke-width="1.300"/></g><path d="M900.7 10.800h5.600l-2.800 3.200z" fill="#000"/><rect x="912" y="0" width="1" height="24" fill="#a0a0a0"/><rect x="913" y="0" width="1" height="24" fill="#fff"/><rect x="916" y="2" width="3" height="1" fill="#b4b4b4"/><rect x="916" y="4" width="3" height="1" fill="#b4b4b4"/><rect x="916" y="6" width="3" height="1" fill="#b4b4b4"/><rect x="916" y="8" width="3" height="1" fill="#b4b4b4"/><rect x="916" y="10" width="3" height="1" fill="#b4b4b4"/><rect x="916" y="12" width="3" height="1" fill="#b4b4b4"/><rect x="916" y="14" width="3" height="1" fill="#b4b4b4"/><rect x="916" y="16" width="3" height="1" fill="#b4b4b4"/><rect x="916" y="18" width="3" height="1" fill="#b4b4b4"/><rect x="916" y="20" width="3" height="1" fill="#b4b4b4"/><rect x="1062" y="0" width="25" height="23" fill="url(#chk)"/><rect x="1062" y="0" width="25" height="1" fill="#a0a0a0"/><rect x="1062" y="0" width="1" height="22" fill="#a0a0a0"/><rect x="1086" y="1" width="1" height="22" fill="#fff"/><rect x="1063" y="22" width="24" height="1" fill="#fff"/><text x="934" y="16" font-size="9.600" text-anchor="middle" fill="#303030" stroke="#303030" stroke-width=".15">M1</text><text x="962" y="16" font-size="9.600" text-anchor="middle" fill="#303030" stroke="#303030" stroke-width=".15">M5</text><text x="990" y="16" font-size="9.600" text-anchor="middle" fill="#303030" stroke="#303030" stroke-width=".15">M15</text><text x="1018" y="16" font-size="9.600" text-anchor="middle" fill="#303030" stroke="#303030" stroke-width=".15">M30</text><text x="1046" y="16" font-size="9.600" text-anchor="middle" fill="#303030" stroke="#303030" stroke-width=".15">H1</text><text x="1074" y="16" font-size="9.600" text-anchor="middle" fill="#303030" stroke="#303030" stroke-width=".15">H4</text><text x="1102" y="16" font-size="9.600" text-anchor="middle" fill="#303030" stroke="#303030" stroke-width=".15">D1</text><text x="1130" y="16" font-size="9.600" text-anchor="middle" fill="#303030" stroke="#303030" stroke-width=".15">W1</text><text x="1158" y="16" font-size="9.600" text-anchor="middle" fill="#303030" stroke="#303030" stroke-width=".15">MN</text><rect x="1173" y="0" width="1" height="24" fill="#a0a0a0"/><rect x="1174" y="0" width="1" height="24" fill="#fff"/><g><path d="M1640.600 12.500l-4.300 4" stroke="#2a64d0" stroke-width="2.400" stroke-linecap="round"/><circle cx="1643.800" cy="9.400" r="4" fill="#f8f8ff" stroke="#2a60d0" stroke-width="1.300"/></g><g><path d="M1661 14c0-3 3-5 6.500-5s6 2 6 5-2.500 5-6 5h-2l-2.200 1.600.600-2.200c-1.800-.8-2.900-2.400-2.900-4.400z" fill="#e4e4ec" stroke="#a8a8a8" stroke-width=".9"/><circle cx="1674.500" cy="9.400" r="8.200" fill="url(#rd)"/><text x="1673.800" y="14" font-size="12.500" font-weight="bold" font-family="Liberation Serif, serif" text-anchor="middle" fill="#fff">1</text></g></svg>
</body></html>
